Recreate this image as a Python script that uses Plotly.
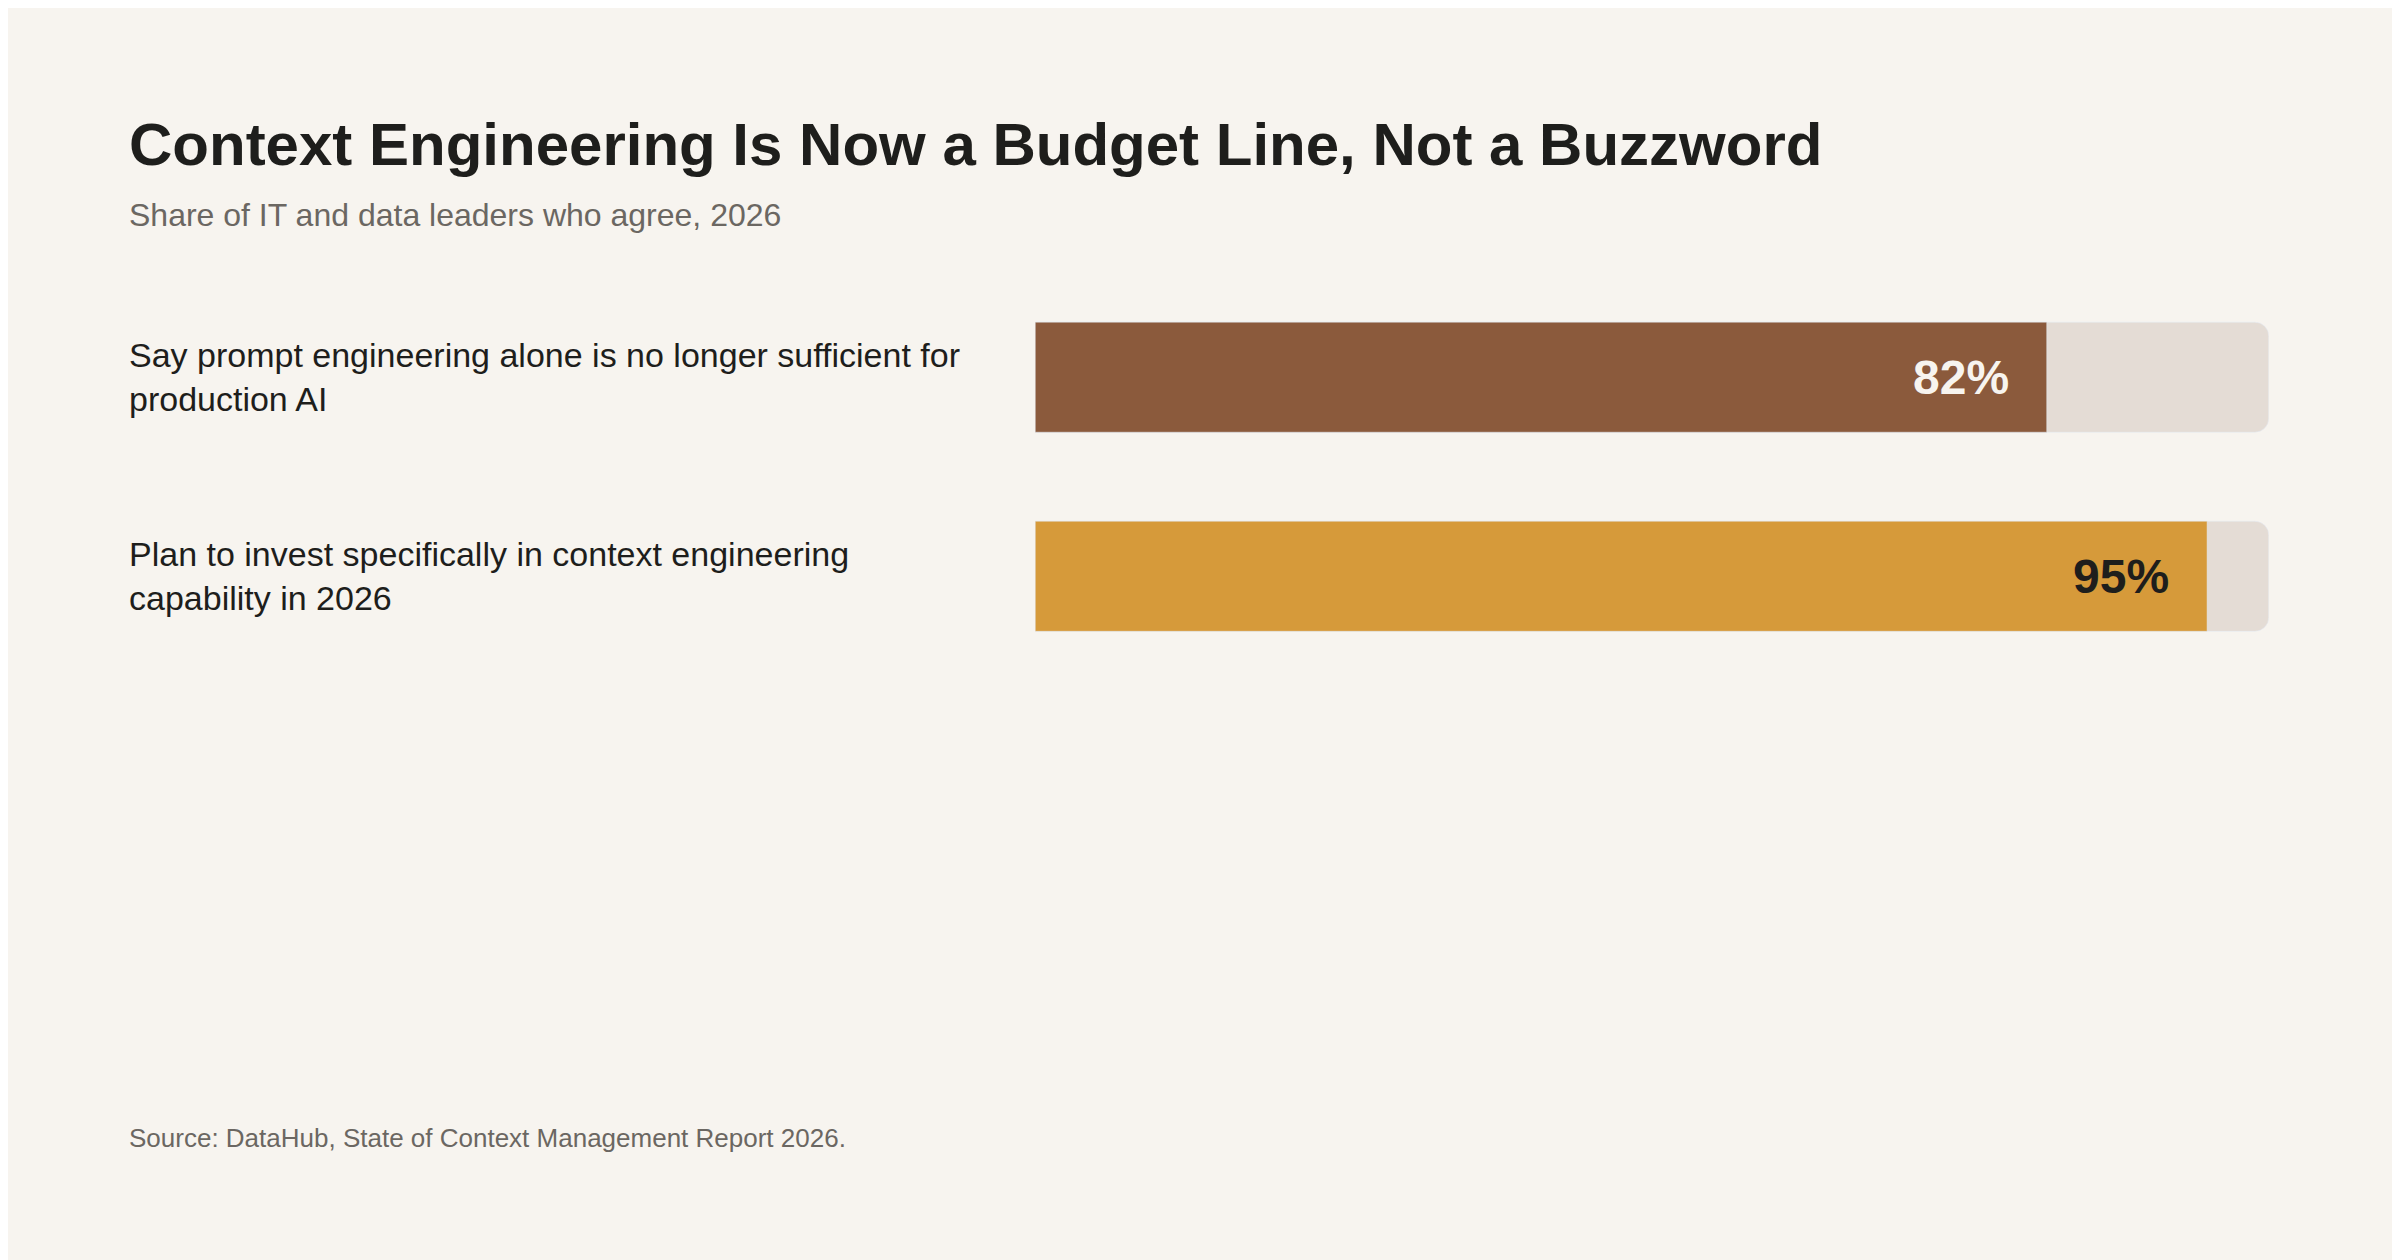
import plotly.graph_objects as go

labels = ["Say prompt engineering alone is no longer sufficient for<br>production AI",
          "Plan to invest specifically in context engineering<br>capability in 2026"]
values = [82, 95]
value_text = ["82%", "95%"]
bar_colors = ["#8B5A3C", "#D69A3A"]
text_colors = ["#F7F4EF", "#1E1E1C"]
y_pos = [1, 0]

FONT = "Liberation Sans, Helvetica, Arial, sans-serif"
X0 = 0.0496

fig = go.Figure()
fig.add_trace(go.Bar(x=[100, 100], y=y_pos, orientation="h", width=0.553,
                     marker=dict(color="#E4DCD5", cornerradius=14), hoverinfo="skip"))
fig.add_trace(go.Bar(x=values, y=y_pos, orientation="h", width=0.553,
                     marker=dict(color=bar_colors, cornerradius=14), hoverinfo="skip"))

for lab, yy in zip(labels, [0.707, 0.549]):
    fig.add_annotation(x=X0, y=yy, xref="paper", yref="paper",
                       text=lab.replace("<br>", "<br>"), showarrow=False,
                       xanchor="left", yanchor="middle", align="left",
                       font=dict(family=FONT, size=34, color="#1E1E1C"))
for yv, v, t, c in zip(y_pos, values, value_text, text_colors):
    fig.add_annotation(x=v, y=yv, xref="x", yref="y", text="<b>%s</b>" % t, showarrow=False,
                       xanchor="right", yanchor="middle", xshift=-36,
                       font=dict(family=FONT, size=48, color=c))

fig.add_annotation(x=X0, y=0.892, xref="paper", yref="paper",
                   text="<b>Context Engineering Is Now a Budget Line, Not a Buzzword</b>",
                   showarrow=False, xanchor="left", yanchor="middle",
                   font=dict(family=FONT, size=60, color="#1E1E1C"))
fig.add_annotation(x=X0, y=0.836, xref="paper", yref="paper",
                   text="Share of IT and data leaders who agree, 2026",
                   showarrow=False, xanchor="left", yanchor="middle",
                   font=dict(family=FONT, size=32, color="#6B6762"))
fig.add_annotation(x=X0, y=0.103, xref="paper", yref="paper",
                   text="Source: DataHub, State of Context Management Report 2026.",
                   showarrow=False, xanchor="left", yanchor="middle",
                   font=dict(family=FONT, size=26, color="#6B6762"))

fig.update_layout(
    width=2400, height=1260, barmode="overlay", showlegend=False,
    paper_bgcolor="#F7F4EF", plot_bgcolor="#F7F4EF",
    margin=dict(l=0, r=0, t=0, b=0),
    xaxis=dict(domain=[0.428, 0.942], range=[0, 100], visible=False, fixedrange=True),
    yaxis=dict(domain=[0.470, 0.786], range=[-0.5, 1.5], visible=False, fixedrange=True),
)

fig.write_html("out.html")
